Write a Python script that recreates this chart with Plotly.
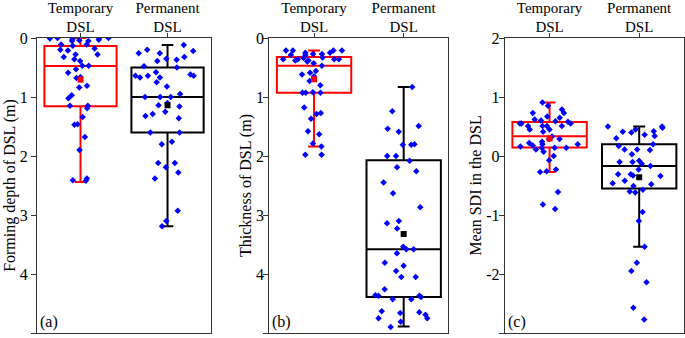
import plotly.graph_objects as go

categories = ["Temporary<br>DSL", "Permanent<br>DSL"]

# (a) Forming depth of DSL (m)
depth_temp = [0.0, 0.05, 0.02, 0.0, 0.0, 0.01, 0.03, 0.05, 0.04, 0.11, 0.11, 0.13,
              0.18, 0.20, 0.21, 0.28, 0.28, 0.32, 0.36, 0.39, 0.47, 0.47, 0.53, 0.59,
              0.66, 0.68, 0.81, 0.84, 0.97, 1.02, 1.15, 1.15, 1.19, 1.34, 1.46, 1.47,
              1.68, 1.90, 2.38, 2.41, 2.42]
depth_perm = [0.12, 0.20, 0.22, 0.26, 0.26, 0.32, 0.35, 0.39, 0.37, 0.48, 0.50, 0.62,
              0.58, 0.64, 0.64, 0.64, 0.67, 0.67, 0.75, 0.82, 0.95, 1.0, 1.0, 1.0,
              1.10, 1.14, 1.16, 1.25, 1.29, 1.32, 1.36, 1.60, 1.60, 1.76, 1.80, 2.12,
              2.12, 2.19, 2.28, 2.38, 2.93, 3.10, 3.19]
# stats: lowerfence, q1, median, q3, upperfence, mean
depth_temp_stats = [0.0, 0.135, 0.475, 1.158, 2.44, 0.706]
depth_perm_stats = [0.12, 0.50, 1.0, 1.60, 3.19, 1.14]

# (b) Thickness of DSL (m)
thick_temp = [0.21, 0.21, 0.21, 0.21, 0.25, 0.25, 0.27, 0.29, 0.29, 0.27, 0.33, 0.36,
              0.36, 0.36, 0.36, 0.34, 0.40, 0.38, 0.38, 0.43, 0.47, 0.59, 0.62, 0.56,
              0.65, 0.73, 0.80, 0.93, 0.93, 0.93, 0.92, 1.18, 1.29, 1.27, 1.37, 1.58,
              1.63, 1.79, 1.84, 1.98, 1.98]
thick_perm = [0.83, 1.24, 1.49, 1.54, 1.59, 1.80, 1.81, 1.81, 2.0, 2.0, 2.08, 2.19,
              2.26, 2.45, 2.63, 2.87, 3.10, 3.14, 3.23, 3.54, 3.58, 3.58, 3.65, 3.81,
              3.86, 3.95, 4.05, 4.05, 4.26, 4.36, 4.37, 4.39, 4.37, 4.43, 4.43, 4.63,
              4.69, 4.65, 4.66, 4.75, 4.75, 4.81, 4.90]
thick_temp_stats = [0.21, 0.32, 0.47, 0.93, 1.84, 0.70]
thick_perm_stats = [0.83, 2.07, 3.58, 4.39, 4.89, 3.32]

# (c) Mean SDI in the DSL
sdi_temp = [0.905, 0.85, 0.79, 0.73, 0.73, 0.67, 0.65, 0.62, 0.60, 0.58, 0.59, 0.55,
            0.55, 0.51, 0.51, 0.55, 0.51, 0.51, 0.45, 0.45, 0.41, 0.33, 0.29, 0.29,
            0.24, 0.20, 0.20, 0.22, 0.16, 0.14, 0.14, 0.14, 0.18, 0.11, 0.07, 0.0,
            -0.07, -0.23, -0.26, -0.27, -0.61, -0.82, -0.90]
sdi_perm = [0.50, 0.48, 0.50, 0.45, 0.41, 0.42, 0.40, 0.36, 0.34, 0.30, 0.20, 0.17,
            0.11, 0.11, 0.10, 0.03, -0.10, -0.08, -0.10, -0.13, -0.17, -0.23, -0.31,
            -0.34, -0.33, -0.31, -0.42, -0.46, -0.48, -0.51, -0.57, -0.60, -0.62,
            -0.95, -1.10, -1.54, -1.81, -1.95, -2.14, -2.57, -2.77]
sdi_temp_stats = [-0.271, 0.142, 0.334, 0.576, 0.905, 0.295]
sdi_perm_stats = [-1.54, -0.55, -0.17, 0.20, 0.50, -0.36]

sdi_tickvals = [-3, -2, -1, 0, 1, 2]
sdi_ticktext = ["-3", "-2", "-1", "0", "1", "2"]

panels = [
    ("x", "y", depth_temp, depth_perm, depth_temp_stats, depth_perm_stats),
    ("x2", "y2", thick_temp, thick_perm, thick_temp_stats, thick_perm_stats),
    ("x3", "y3", sdi_temp, sdi_perm, sdi_temp_stats, sdi_perm_stats),
]

FONT = "'Liberation Serif', 'DejaVu Serif', serif"
fig = go.Figure()

for xa, ya, t_vals, p_vals, t_st, p_st in panels:
    for cat, vals, st, col in [(categories[0], t_vals, t_st, "#ff0000"),
                               (categories[1], p_vals, p_st, "#000000")]:
        fig.add_trace(go.Box(
            x=[cat], y=[vals],
            lowerfence=[st[0]], q1=[st[1]], median=[st[2]], q3=[st[3]],
            upperfence=[st[4]],
            boxpoints="all", jitter=1, pointpos=0,
            width=0.83, whiskerwidth=0.16,
            line=dict(color=col, width=2),
            fillcolor="rgba(0,0,0,0)",
            marker=dict(color="#0000ff", symbol="diamond", size=5,
                        line=dict(width=0)),
            xaxis=xa, yaxis=ya, showlegend=False, hoverinfo="skip",
        ))
        fig.add_trace(go.Scatter(
            x=[cat], y=[st[5]], mode="markers",
            marker=dict(color=col, symbol="square", size=6),
            xaxis=xa, yaxis=ya, showlegend=False, hoverinfo="skip",
        ))

axis_common = dict(showline=True, mirror=True, linecolor="#333333", linewidth=1,
                   showgrid=False, zeroline=False, ticks="outside", ticklen=5,
                   automargin=False,
                   tickcolor="#333333", tickfont=dict(family=FONT, size=16, color="#000"))

domains = [[0.0, 0.269], [0.359, 0.636], [0.723, 1.0]]
titles = ["Forming depth of DSL (m)", "Thickness of DSL (m)", "Mean SDI in the DSL"]
labels = ["(a)", "(b)", "(c)"]
ytick_standoffs = [0, -4, -4]
title_standoffs = [0, 0, 0]

layout = dict(
    width=685, height=338,
    margin=dict(l=37, r=1, t=38, b=5),
    paper_bgcolor="white", plot_bgcolor="white",
    font=dict(family=FONT, size=16, color="#000"),
    showlegend=False,
    annotations=[],
)
for i in range(3):
    sfx = "" if i == 0 else str(i + 1)
    layout["xaxis" + sfx] = dict(axis_common, domain=domains[i], side="top",
                                 anchor="y" + sfx, type="category",
                                 categoryorder="array", categoryarray=categories,
                                 range=[-0.5, 1.5], ticklen=4, ticklabelstandoff=-5,
                                 tickfont=dict(family=FONT, size=15, color="#000"))
    ya = dict(axis_common, anchor="x" + sfx, ticklabelstandoff=ytick_standoffs[i],
              title=dict(text=titles[i], font=dict(family=FONT, size=16, color="#000"),
                         standoff=title_standoffs[i]))
    if i < 2:
        ya.update(range=[5, 0], tickvals=[0, 1, 2, 3, 4, 5])
    else:
        ya.update(range=[-3, 2], tickvals=sdi_tickvals, ticktext=sdi_ticktext)
    layout["yaxis" + sfx] = ya
    layout["annotations"].append(dict(
        text=labels[i], xref="x%s domain" % sfx, yref="y%s domain" % sfx,
        x=0.005, y=0.0, xanchor="left", yanchor="bottom", showarrow=False,
        font=dict(family=FONT, size=16, color="#000")))

fig.update_layout(**layout)
fig.write_html("out.html", config={"displayModeBar": False},
               post_script="document.body.style.margin='0';document.body.style.padding='0';")
